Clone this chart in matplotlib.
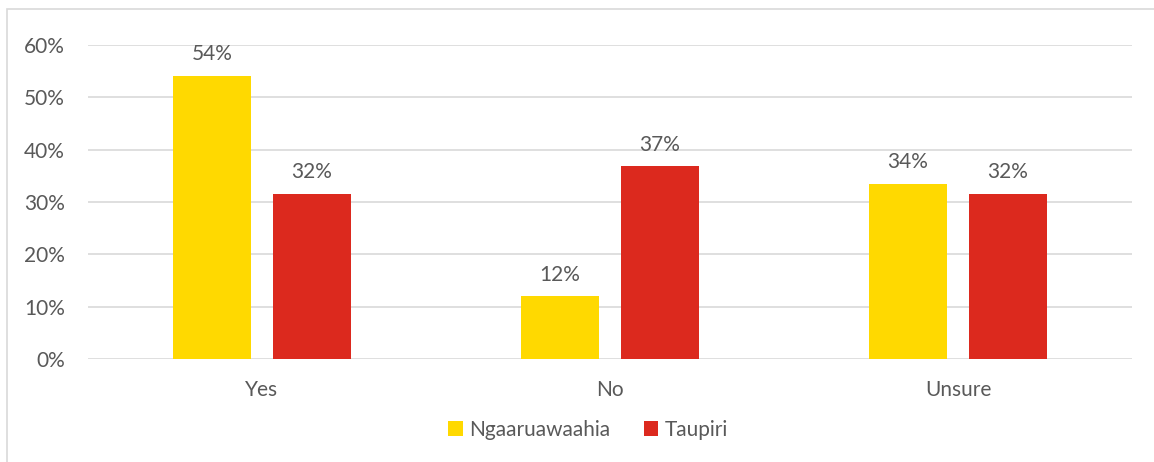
import matplotlib
matplotlib.use("Agg")
import matplotlib.pyplot as plt
import numpy as np
from matplotlib.patches import Rectangle

categories = ["Yes", "No", "Unsure"]
series_names = ["Ngaaruawaahia", "Taupiri"]
ngaaruawaahia = [54.1, 12.0, 33.5]
taupiri = [31.6, 36.8, 31.6]
yticks = [0, 10, 20, 30, 40, 50, 60]

colors = ["#FFD900", "#DC291E"]
text_color = "#595959"
plt.rcParams['font.family'] = ['Lato', 'DejaVu Sans']
fs = 15

W, H = 1154, 462
fig = plt.figure(figsize=(W/100, H/100), dpi=100)
# outer chart border
fig.patches.append(Rectangle((7/W, -0.1), 1.2, 1 - 9/H + 0.1, transform=fig.transFigure,
                             fill=False, edgecolor="#D9D9D9", linewidth=1.2))
ax = fig.add_axes([88/W, 1 - 359/H, (1132-88)/W, (359-45)/H])

x = np.arange(len(categories))
bw = 0.224
off = 0.1437
for vals, c, o, name in [(ngaaruawaahia, colors[0], -off, series_names[0]),
                         (taupiri, colors[1], off, series_names[1])]:
    bars = ax.bar(x + o, vals, bw, color=c, label=name, zorder=3)
    for b, v in zip(bars, vals):
        ax.text(b.get_x() + b.get_width()/2, v + 2.2, f"{round(v)}%", ha="center", va="bottom",
                fontsize=fs, color=text_color)

ax.set_xlim(-0.5, 2.5)
ax.set_ylim(0, 60)
ax.set_yticks(yticks)
ax.set_yticklabels([f"{t}%" for t in yticks], fontsize=fs, color=text_color)
ax.set_xticks(x)
ax.set_xticklabels(categories, fontsize=fs, color=text_color)
ax.tick_params(length=0)
ax.tick_params(axis="x", pad=15)
ax.tick_params(axis="y", pad=16.5)
ax.grid(axis="y", color="#D9D9D9", linewidth=1.2, zorder=0)
for s in ax.spines.values():
    s.set_visible(False)

leg = fig.legend(loc="center", bbox_to_anchor=(588/W, 1 - 430/H), ncol=2, frameon=False,
                 fontsize=fs, handlelength=0.7, handleheight=0.7, handletextpad=0.3,
                 columnspacing=1.6)
for t in leg.get_texts():
    t.set_color(text_color)

fig.savefig("out.png", dpi=100)
